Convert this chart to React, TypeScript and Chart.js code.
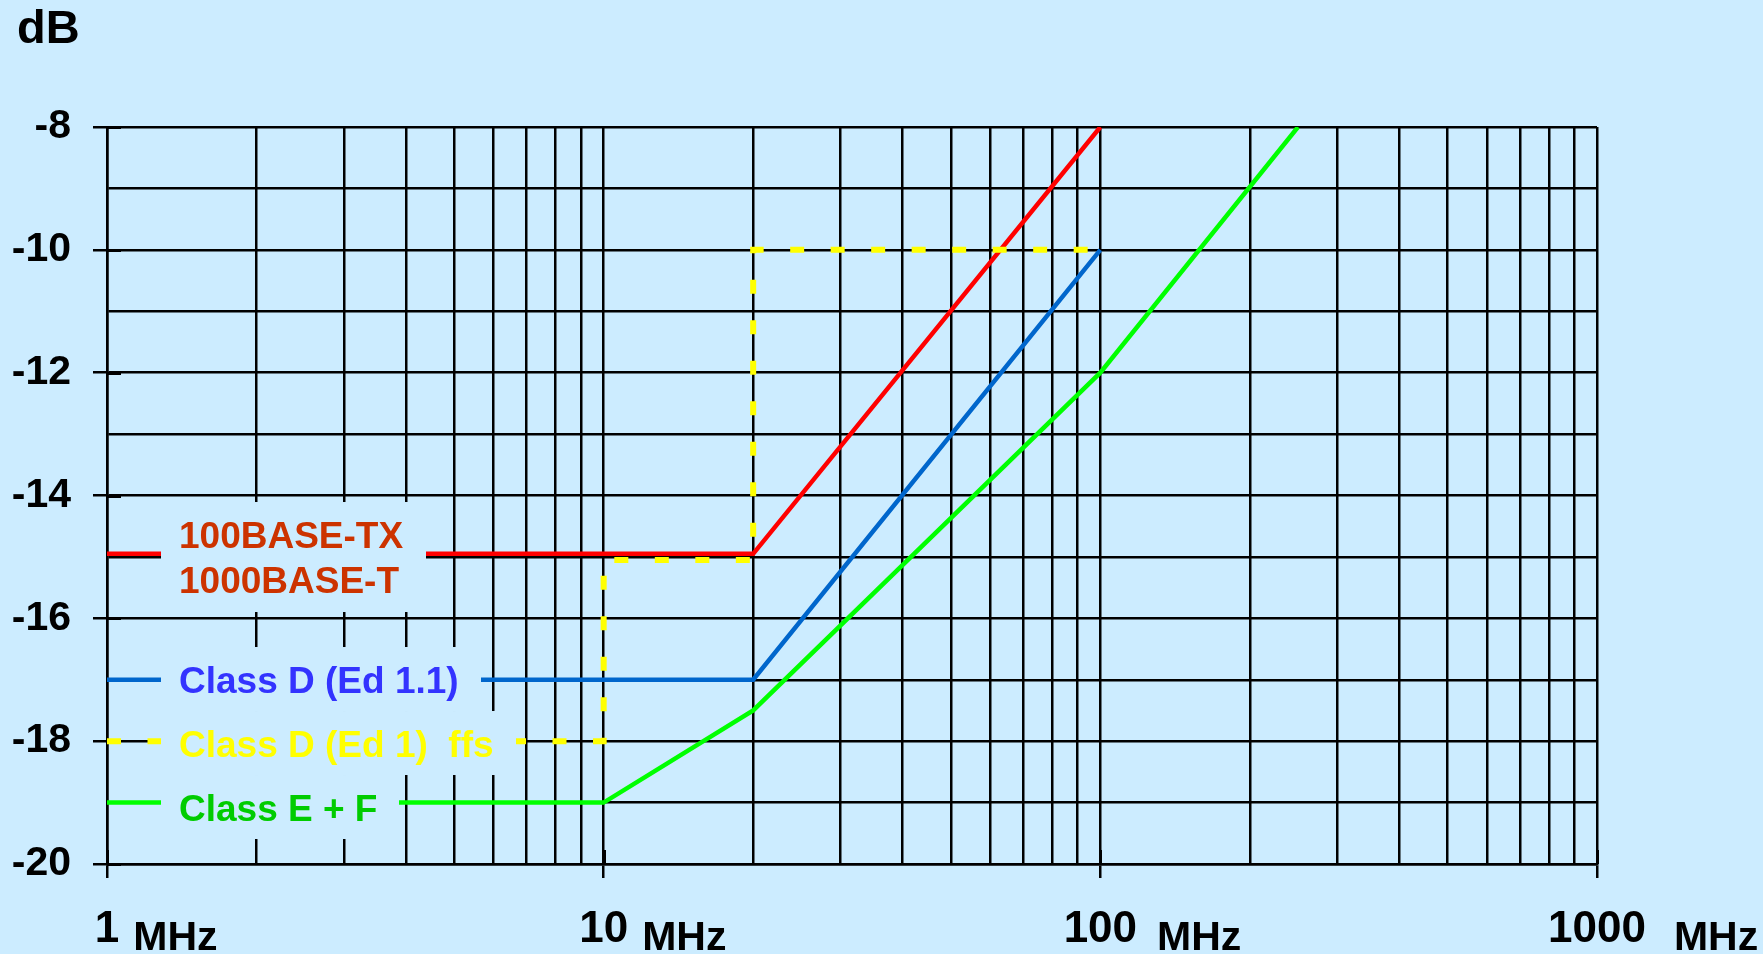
import React, { useEffect, useRef } from 'react';
import { Chart, registerables } from 'chart.js';

Chart.register(...registerables);

const WIDTH = 1763;
const HEIGHT = 954;
const BG = '#CCECFF';
const FONT = '"Liberation Sans", Arial, Helvetica, sans-serif';

// Return-loss limit lines, frequency in MHz, loss in dB
const txFreq = [1, 20, 100];
const txLoss = [-14.95, -14.95, -8];

const classD11Freq = [1, 20, 100];
const classD11Loss = [-17, -17, -10];

const classD1Freq = [1, 10, 10, 20, 20, 100];
const classD1Loss = [-18, -18, -15.05, -15.05, -10, -10];

const classEFFreq = [1, 10, 20, 100, 250];
const classEFLoss = [-19, -19, -17.5, -12, -8];

// Axes
const freqMin = 1;
const freqMax = 1000;
const lossMin = -20;
const lossMax = -8;
const freqLabels = [1, 10, 100, 1000];
const freqUnit = 'MHz';
const lossLabels = [-20, -18, -16, -14, -12, -10, -8];
const lossUnit = 'dB';

// vertical grid at every 1..9 multiple of each decade
const gridFreqs: number[] = [];
for (const decade of [1, 10, 100]) {
  for (let m = 1; m < 10; m++) gridFreqs.push(m * decade);
}
gridFreqs.push(1000);

// In-plot legend: labels sit on a background-coloured panel over the lines
const legendEntries = [
  { lines: ['100BASE-TX', '1000BASE-T'], color: '#CC3300', baselines: [-14.854, -15.587], boxTop: -14.106, boxBottom: -15.897, boxWidth: 265 },
  { lines: ['Class D (Ed 1.1)'], color: '#3333FF', baselines: [-17.215], boxTop: -16.467, boxBottom: -17.509, boxWidth: 320 },
  { lines: ['Class D (Ed 1)  ffs'], color: '#FFFF00', baselines: [-18.257], boxTop: -17.509, boxBottom: -18.551, boxWidth: 355 },
  { lines: ['Class E + F'], color: '#00CC00', baselines: [-19.308], boxTop: -18.551, boxBottom: -19.593, boxWidth: 238 },
];

// spacing between each frequency number and its unit
const unitGaps = [14, 14, 20, 28];

const GRID_W = 2.5;
const TICK_LEN = 14;

const toPoints = (xs: number[], ys: number[]) => xs.map((x, i) => ({ x, y: ys[i] }));

const overlayPlugin = {
  id: 'overlay',
  beforeDatasetsDraw(chart: any) {
    const { ctx, scales, chartArea } = chart;
    const x = scales.x;
    const y = scales.y;
    ctx.save();
    // short inner tick marks at the labelled values
    ctx.strokeStyle = '#000';
    ctx.lineWidth = 3;
    ctx.beginPath();
    for (const v of lossLabels) {
      const py = Math.round(y.getPixelForValue(v)) + 0.5;
      ctx.moveTo(chartArea.left, py);
      ctx.lineTo(chartArea.left + TICK_LEN, py);
    }
    for (const f of freqLabels) {
      const px = Math.round(x.getPixelForValue(f)) + 0.5;
      ctx.moveTo(px, chartArea.bottom);
      ctx.lineTo(px, chartArea.bottom - TICK_LEN);
    }
    ctx.stroke();
    ctx.restore();
  },
  afterDatasetsDraw(chart: any) {
    const { ctx, chartArea, scales } = chart;
    const y = scales.y;
    ctx.save();
    const boxLeft = chartArea.left + 54;
    for (const e of legendEntries) {
      const top = y.getPixelForValue(e.boxTop);
      const bottom = y.getPixelForValue(e.boxBottom);
      ctx.fillStyle = BG;
      ctx.fillRect(boxLeft, top, e.boxWidth, bottom - top);
    }
    ctx.font = `bold 37px ${FONT}`;
    ctx.textAlign = 'left';
    ctx.textBaseline = 'alphabetic';
    for (const e of legendEntries) {
      ctx.fillStyle = e.color;
      e.lines.forEach((t, i) => {
        ctx.fillText(t, chartArea.left + 72, y.getPixelForValue(e.baselines[i]));
      });
    }
    ctx.restore();
  },
  afterDraw(chart: any) {
    const { ctx, scales } = chart;
    const x = scales.x;
    ctx.save();
    ctx.fillStyle = '#000';
    ctx.textBaseline = 'alphabetic';
    // y unit
    ctx.font = `bold 47px ${FONT}`;
    ctx.textAlign = 'left';
    ctx.fillText(lossUnit, 17, 43);
    // frequency labels
    freqLabels.forEach((f, i) => {
      const px = x.getPixelForValue(f);
      const txt = String(f);
      ctx.font = `bold 44px ${FONT}`;
      ctx.textAlign = 'center';
      ctx.fillText(txt, px, 942);
      const w = ctx.measureText(txt).width;
      ctx.font = `bold 41px ${FONT}`;
      ctx.textAlign = 'left';
      ctx.fillText(freqUnit, px + w / 2 + unitGaps[i], 950);
    });
    ctx.restore();
  },
};

export default function App() {
  const canvasRef = useRef<HTMLCanvasElement | null>(null);

  useEffect(() => {
    if (!canvasRef.current) return;
    const lineStyle = { pointRadius: 0, pointHoverRadius: 0, fill: false, tension: 0 };
    const chart = new Chart(canvasRef.current, {
      type: 'line',
      data: {
        datasets: [
          {
            label: 'Class D (Ed 1) ffs',
            data: toPoints(classD1Freq, classD1Loss),
            borderColor: '#FFFF00',
            borderWidth: 6,
            borderDash: [14, 26.5],
            borderDashOffset: 0,
            ...lineStyle,
          },
          {
            label: '100BASE-TX / 1000BASE-T',
            data: toPoints(txFreq, txLoss),
            borderColor: '#FF0000',
            borderWidth: 4.5,
            ...lineStyle,
          },
          {
            label: 'Class D (Ed 1.1)',
            data: toPoints(classD11Freq, classD11Loss),
            borderColor: '#0066CC',
            borderWidth: 4.5,
            ...lineStyle,
          },
          {
            label: 'Class E + F',
            data: toPoints(classEFFreq, classEFLoss),
            borderColor: '#00FF00',
            borderWidth: 4.5,
            ...lineStyle,
          },
        ],
      },
      options: {
        animation: false,
        responsive: false,
        maintainAspectRatio: false,
        layout: { padding: { left: 0, top: 127, right: 166, bottom: 0 } },
        plugins: {
          legend: { display: false },
          tooltip: { enabled: false },
        },
        events: [],
        scales: {
          x: {
            type: 'logarithmic',
            min: freqMin,
            max: freqMax,
            afterBuildTicks: (scale: any) => {
              scale.ticks = gridFreqs.map((value) => ({ value }));
            },
            afterFit: (scale: any) => {
              scale.height = 90;
            },
            ticks: { display: false, autoSkip: false },
            grid: {
              color: '#000',
              lineWidth: GRID_W,
              drawTicks: true,
              tickLength: TICK_LEN,
              tickWidth: GRID_W,
              tickColor: (c: any) => (c.tick && freqLabels.includes(c.tick.value) ? '#000' : 'rgba(0,0,0,0)'),
            },
            border: { display: true, color: '#000', width: GRID_W },
          },
          y: {
            type: 'linear',
            min: lossMin,
            max: lossMax,
            afterFit: (scale: any) => {
              scale.width = 107;
            },
            ticks: {
              stepSize: 1,
              autoSkip: false,
              padding: 22,
              color: '#000',
              font: { family: FONT, weight: 'bold', size: 41 },
              callback: (v: any) => (lossLabels.includes(Number(v)) ? String(v) : ''),
            },
            grid: {
              color: '#000',
              lineWidth: GRID_W,
              drawTicks: true,
              tickLength: TICK_LEN,
              tickWidth: GRID_W,
              tickColor: (c: any) => (c.tick && lossLabels.includes(c.tick.value) ? '#000' : 'rgba(0,0,0,0)'),
            },
            border: { display: true, color: '#000', width: GRID_W },
          },
        },
      } as any,
      plugins: [overlayPlugin],
    });
    return () => chart.destroy();
  }, []);

  return (
    <div style={{ position: 'fixed', left: 0, top: 0, width: WIDTH, height: HEIGHT, background: BG }}>
      <canvas ref={canvasRef} width={WIDTH} height={HEIGHT} style={{ display: 'block', width: WIDTH, height: HEIGHT }} />
    </div>
  );
}
